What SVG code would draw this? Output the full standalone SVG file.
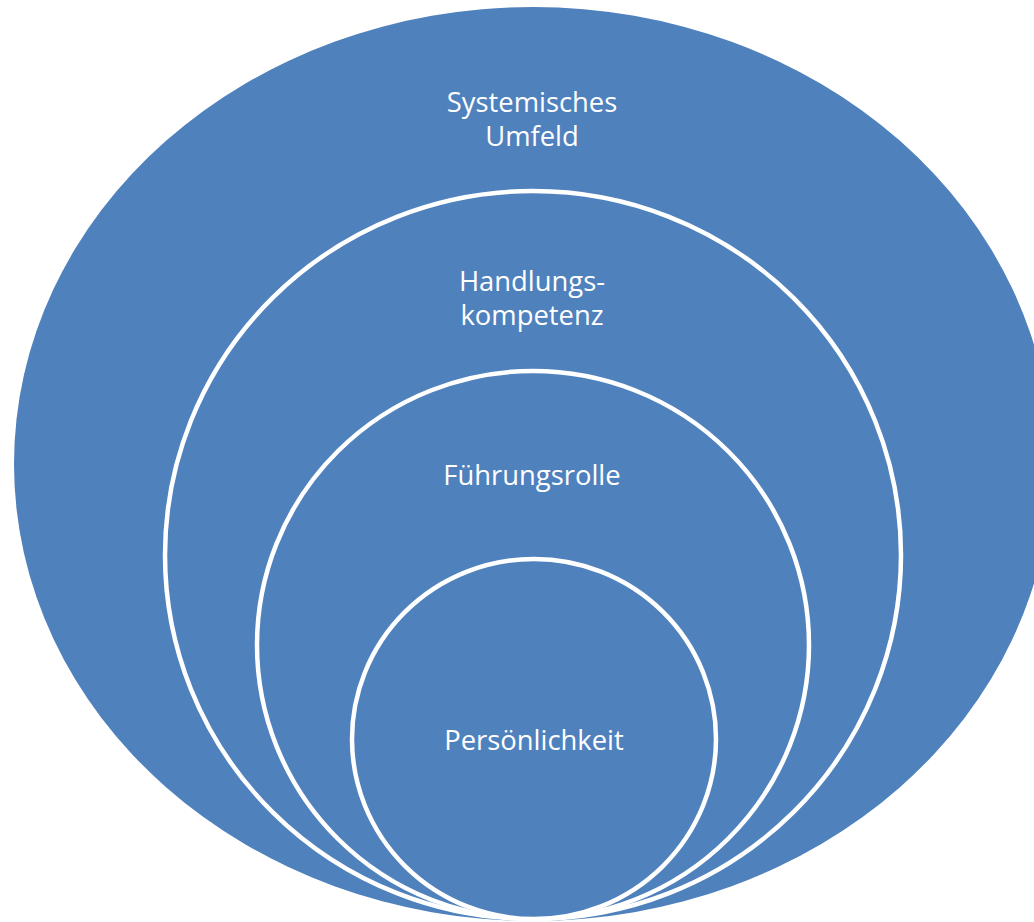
<svg xmlns="http://www.w3.org/2000/svg" width="1034" height="922" viewBox="0 0 1034 922">
<style>
.shape{fill:#4F81BD;stroke:#FFFFFF;stroke-width:4.5}
.outer{fill:#4F81BD;stroke:none}
.lbl{fill:#FFFFFF;font-family:"Open Sans","Noto Sans","Liberation Sans",sans-serif;font-size:27.4px;text-anchor:middle}
</style>
<rect width="1034" height="922" fill="#FFFFFF"/>
<g id="node-systemisches-umfeld">
<ellipse class="outer" cx="533" cy="464" rx="519" ry="457"/>
<text class="lbl" x="532" y="112">Systemisches</text>
<text class="lbl" x="532" y="146">Umfeld</text>
</g>
<g id="node-handlungskompetenz">
<ellipse class="shape" cx="533" cy="555" rx="368" ry="364"/>
<text class="lbl" x="532" y="291">Handlungs-</text>
<text class="lbl" x="532" y="325">kompetenz</text>
</g>
<g id="node-fuehrungsrolle">
<ellipse class="shape" cx="533" cy="645" rx="276" ry="274"/>
<text class="lbl" x="532" y="485">Führungsrolle</text>
</g>
<g id="node-persoenlichkeit">
<ellipse class="shape" cx="534" cy="739" rx="182" ry="180"/>
<text class="lbl" x="534" y="750">Persönlichkeit</text>
</g>
<g id="connectors"></g>
</svg>
